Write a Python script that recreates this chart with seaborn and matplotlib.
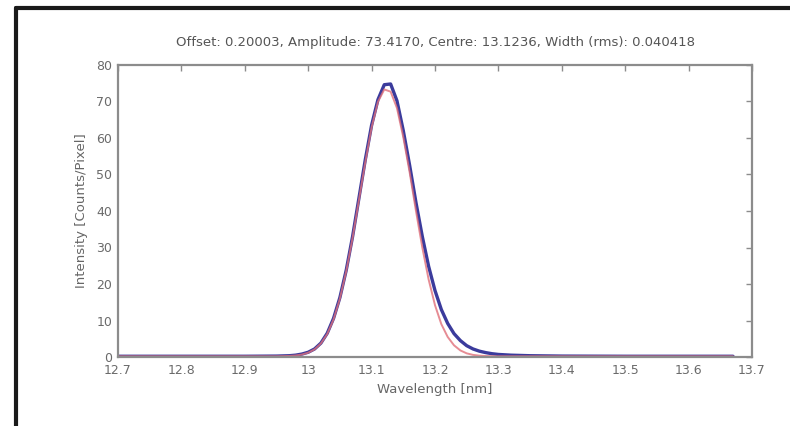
import matplotlib
matplotlib.use("Agg")
import matplotlib.pyplot as plt
import seaborn as sns
import pandas as pd
from matplotlib.lines import Line2D

# ---- data ----
wavelength = [12.70, 12.80, 12.90, 12.95, 12.96, 12.97, 12.98, 12.99, 13.00, 13.01,
              13.02, 13.03, 13.04, 13.05, 13.06, 13.07, 13.08, 13.09, 13.10, 13.11,
              13.12, 13.13, 13.14, 13.15, 13.16, 13.17, 13.18, 13.19, 13.20, 13.21,
              13.22, 13.23, 13.24, 13.25, 13.26, 13.27, 13.28, 13.29, 13.30, 13.32,
              13.35, 13.40, 13.50, 13.60, 13.67]
measured = [0.2, 0.2, 0.2, 0.25, 0.3, 0.35, 0.5, 0.8, 1.3, 2.2,
            3.8, 6.5, 10.6, 16.3, 23.8, 33.0, 43.5, 54.0, 63.5, 70.5,
            74.6, 74.8, 70.2, 62.0, 52.5, 42.3, 33.0, 24.8, 18.2, 13.0,
            9.2, 6.4, 4.5, 3.1, 2.2, 1.6, 1.2, 0.9, 0.7, 0.5,
            0.35, 0.25, 0.2, 0.2, 0.2]
fitted = [0.2, 0.2, 0.2, 0.2, 0.24, 0.29, 0.41, 0.66, 1.17, 2.09,
          3.7, 6.3, 10.3, 16.0, 23.5, 32.6, 43.0, 53.3, 62.9, 69.9,
          73.3, 72.7, 68.2, 60.2, 50.6, 40.0, 30.0, 21.2, 14.2, 9.0,
          5.5, 3.2, 1.8, 1.0, 0.58, 0.37, 0.27, 0.22, 0.2, 0.2,
          0.2, 0.2, 0.2, 0.2, 0.2]

x_ticks = [12.7, 12.8, 12.9, 13.0, 13.1, 13.2, 13.3, 13.4, 13.5, 13.6, 13.7]
x_tick_labels = ["12.7", "12.8", "12.9", "13", "13.1", "13.2", "13.3", "13.4", "13.5", "13.6", "13.7"]
y_ticks = [0, 10, 20, 30, 40, 50, 60, 70, 80]

title = "Offset: 0.20003, Amplitude: 73.4170, Centre: 13.1236, Width (rms): 0.040418"

df = pd.DataFrame({"wavelength": wavelength, "measured": measured, "fitted": fitted})

sns.set_style("white")
plt.rcParams["font.family"] = ["DejaVu Sans"]

fig = plt.figure(figsize=(7.9, 4.26), dpi=100)
ax = fig.add_axes([118 / 790, 69 / 426, 634 / 790, 292 / 426])

sns.lineplot(data=df, x="wavelength", y="measured", ax=ax, color="#3b3b9c",
             linewidth=2.4, sort=False)
sns.lineplot(data=df, x="wavelength", y="fitted", ax=ax, color="#e0707a",
             linewidth=1.4, alpha=0.8, sort=False)

ax.set_xlim(12.7, 13.7)
ax.set_ylim(0, 80)
ax.set_xticks(x_ticks)
ax.set_xticklabels(x_tick_labels)
ax.set_yticks(y_ticks)

grey = "#8c8c8c"
for s in ax.spines.values():
    s.set_visible(True)
    s.set_color(grey)
    s.set_linewidth(1.6)
ax.tick_params(direction="in", top=True, right=True, length=4, width=1,
               color=grey, labelcolor="#6a6a6a", labelsize=9)
ax.tick_params(axis="x", pad=5)
ax.tick_params(axis="y", pad=4)

ax.set_title(title, fontsize=9.5, color="#555555", pad=14)
ax.set_xlabel("Wavelength [nm]", fontsize=9.5, color="#666666", labelpad=4)
ax.set_ylabel("Intensity [Counts/Pixel]", fontsize=9.5, color="#666666", labelpad=6)

# black frame of the picture (top and left)
fig.add_artist(Line2D([16 / 790, 16 / 790], [0, 1 - 8 / 426], transform=fig.transFigure,
                      color="#1a1a1a", linewidth=3))
fig.add_artist(Line2D([16 / 790, 1], [1 - 8 / 426, 1 - 8 / 426], transform=fig.transFigure,
                      color="#1a1a1a", linewidth=3))

fig.savefig("out.png", dpi=100)
